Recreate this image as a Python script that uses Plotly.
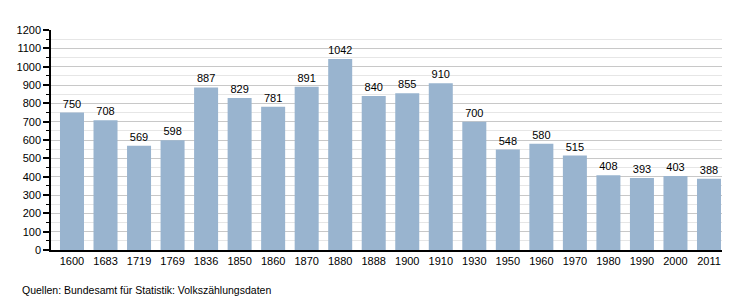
import plotly.graph_objects as go

years = ["1600", "1683", "1719", "1769", "1836", "1850", "1860", "1870", "1880", "1888",
         "1900", "1910", "1930", "1950", "1960", "1970", "1980", "1990", "2000", "2011"]
population = [750, 708, 569, 598, 887, 829, 781, 891, 1042, 840,
              855, 910, 700, 548, 580, 515, 408, 393, 403, 388]
source_text = "Quellen: Bundesamt für Statistik: Volkszählungsdaten"

fig = go.Figure()
fig.add_trace(go.Bar(
    x=years, y=population,
    marker=dict(color="#99b4cf", line=dict(width=0)),
    text=[str(v) for v in population],
    textposition="outside",
    textfont=dict(size=11, color="#000000", family="Liberation Sans, Arial, sans-serif"),
    cliponaxis=False,
))

fig.update_layout(
    width=750, height=300,
    margin=dict(l=51, r=28, t=30, b=50),
    paper_bgcolor="white", plot_bgcolor="white",
    bargap=0.284,
    showlegend=False,
    font=dict(family="Liberation Sans, Arial, sans-serif", size=11, color="#000000"),
    xaxis=dict(
        type="category",
        range=[-0.626, 19.388],
        showline=True, linecolor="#000000", linewidth=1.5,
        ticks="", showgrid=False,
        tickfont=dict(size=11),
    ),
    yaxis=dict(
        range=[0, 1200], dtick=100, tick0=0,
        showline=True, linecolor="#000000", linewidth=1.5,
        ticks="outside", ticklen=6, tickcolor="#000000", tickwidth=1.5,
        showgrid=True, gridcolor="#c8c8c8", gridwidth=1,
        zeroline=False,
        tickfont=dict(size=11),
        minor=dict(dtick=50, showgrid=True, gridcolor="#e6e6e6", gridwidth=1,
                   ticks="outside", ticklen=3, tickcolor="#000000", tickwidth=1),
    ),
    annotations=[dict(
        text=source_text, xref="paper", yref="paper",
        x=(20 - 51) / 671, y=-40/220, xanchor="left", yanchor="middle",
        showarrow=False, font=dict(size=10.5, color="#000000"),
    )],
)

fig.write_html("out.html")
